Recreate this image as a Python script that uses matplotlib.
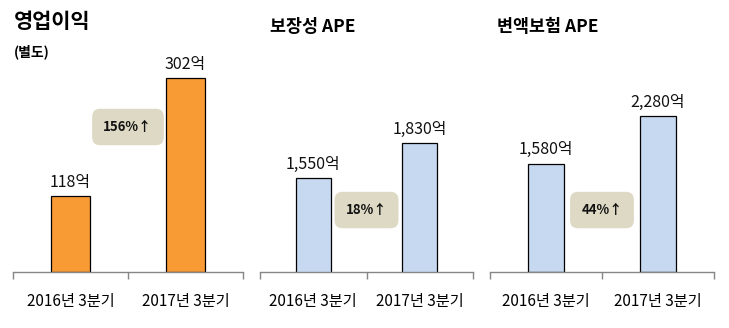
import matplotlib
matplotlib.use("Agg")
import matplotlib.pyplot as plt
from matplotlib.transforms import blended_transform_factory

plt.rcParams['font.family'] = ['Noto Sans CJK KR', 'DejaVu Sans']

categories = ["2016년 3분기", "2017년 3분기"]
panel_titles = ["영업이익", "보장성 APE", "변액보험 APE"]
subtitle = "(별도)"
values_profit = [118, 302]
values_protect = [1550, 1830]
values_variable = [1580, 2280]
value_labels_profit = ["118억", "302억"]
value_labels_protect = ["1,550억", "1,830억"]
value_labels_variable = ["1,580억", "2,280억"]
growth_labels = ["156%↑", "18%↑", "44%↑"]

W, H = 729, 328
fig = plt.figure(figsize=(W / 100, H / 100), dpi=100)

def fx(px):
    return px / W

def fy(py):
    return 1 - py / H

panels = [
    dict(x0=13, x1=243, vals=values_profit, labels=value_labels_profit, color="#F99B35",
         ylim=(0, 362), badge_y=0.625, width=0.34),
    dict(x0=260, x1=473, vals=values_protect, labels=value_labels_protect, color="#C6D9F0",
         ylim=(800, 2656), badge_y=0.267, width=0.33),
    dict(x0=490, x1=714, vals=values_variable, labels=value_labels_variable, color="#C6D9F0",
         ylim=(0, 3391), badge_y=0.267, width=0.33),
]

top_px, bot_px = 40, 272
for i, p in enumerate(panels):
    ax = fig.add_axes([fx(p["x0"]), fy(bot_px), fx(p["x1"] - p["x0"]), (bot_px - top_px) / H])
    xs = list(range(len(categories)))
    bars = ax.bar(xs, p["vals"], width=p["width"], color=p["color"], edgecolor="black",
                  linewidth=0.9, zorder=2)
    ax.set_xlim(-0.5, len(categories) - 0.5)
    ax.set_ylim(*p["ylim"])
    for s in ["top", "right", "left"]:
        ax.spines[s].set_visible(False)
    ax.spines["bottom"].set_color("#868686")
    ax.spines["bottom"].set_linewidth(1.0)
    ax.spines["bottom"].set_zorder(3)
    ax.set_yticks([])
    ax.set_xticks([-0.5, 0.5, 1.5])
    ax.set_xticklabels([])
    ax.tick_params(axis="x", length=5, width=1.0, color="#868686", direction="out")
    ax.set_xticks(xs, minor=True)
    ax.set_xticklabels(categories, minor=True, fontsize=11)
    ax.tick_params(axis="x", which="minor", length=0, pad=15)
    for b, lab in zip(bars, p["labels"]):
        ax.annotate(lab, (b.get_x() + b.get_width() / 2, b.get_height()),
                    xytext=(0, 4), textcoords="offset points", ha="center", va="bottom",
                    fontsize=11.5, color="#111111")
    tr = blended_transform_factory(ax.transData, ax.transAxes)
    ax.text(0.5, p["badge_y"], growth_labels[i], transform=tr, ha="center", va="center",
            fontsize=9.5, fontweight="bold", color="#111111",
            bbox=dict(boxstyle="round,pad=0.85,rounding_size=0.6", facecolor="#DDD9C4",
                      edgecolor="none"), zorder=4)

fig.text(fx(14), fy(22), panel_titles[0], fontsize=15, fontweight="bold", ha="left", va="center")
fig.text(fx(14), fy(52), subtitle, fontsize=10, fontweight="bold", ha="left", va="center")
fig.text(fx(270), fy(27), panel_titles[1], fontsize=12.5, fontweight="bold", ha="left", va="center")
fig.text(fx(497), fy(27), panel_titles[2], fontsize=12.5, fontweight="bold", ha="left", va="center")

fig.savefig("out.png", dpi=100)
